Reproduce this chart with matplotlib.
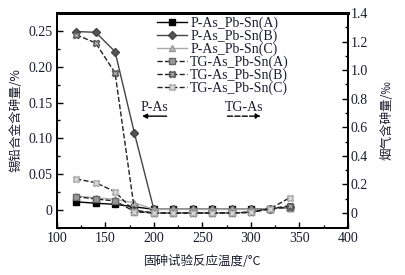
import matplotlib
matplotlib.use("Agg")
import matplotlib.pyplot as plt
from matplotlib.ticker import MultipleLocator, FixedLocator

plt.rcParams['font.family'] = ['Liberation Serif', 'Noto Sans CJK SC', 'DejaVu Sans']
plt.rcParams['mathtext.default'] = 'regular'

temps = [120, 140, 160, 180, 200, 220, 240, 260, 280, 300, 320, 340]
p_a = [0.0115, 0.0095, 0.008, 0.0045, 0.001, 0.001, 0.001, 0.001, 0.001, 0.001, 0.002, 0.003]
p_b = [0.249, 0.248, 0.221, 0.107, 0.001, 0.001, 0.001, 0.001, 0.001, 0.001, 0.002, 0.004]
p_c = [0.0195, 0.017, 0.015, 0.010, 0.001, 0.001, 0.001, 0.001, 0.001, 0.001, 0.002, 0.003]
tg_a = [0.114, 0.098, 0.084, 0.010, 0.0, 0.0, 0.0, 0.0, 0.0, 0.005, 0.03, 0.04]
tg_b = [1.247, 1.19, 0.98, 0.02, 0.0, 0.0, 0.0, 0.0, 0.0, 0.005, 0.03, 0.05]
tg_c = [0.238, 0.212, 0.149, 0.01, 0.0, 0.0, 0.0, 0.0, 0.0, 0.005, 0.03, 0.107]
labels = ['P-As_Pb-Sn(A)', 'P-As_Pb-Sn(B)', 'P-As_Pb-Sn(C)',
          'TG-As_Pb-Sn(A)', 'TG-As_Pb-Sn(B)', 'TG-As_Pb-Sn(C)']

txt = '#1c1c30'
fig = plt.figure(figsize=(4.06, 2.75), dpi=100)
ax = fig.add_axes([0.140, 0.171, 0.717, 0.782])
ax2 = ax.twinx()

h = []
h += ax.plot(temps, p_a, '-', color='black', lw=1.0, marker='s', ms=4, mfc='black', mec='black', label=labels[0])
h += ax.plot(temps, p_b, '-', color='#444444', lw=1.0, marker='D', ms=4, mfc='#555555', mec='#444444', label=labels[1])
h += ax.plot(temps, p_c, '-', color='#aaaaaa', lw=1.0, marker='^', ms=4, mfc='#bbbbbb', mec='#999999', label=labels[2])
h += ax2.plot(temps, tg_a, '--', color='#222222', lw=1.0, marker='s', ms=4.5, mfc='#999999', mec='#666666', label=labels[3])
h += ax2.plot(temps, tg_b, '--', color='#222222', lw=1.0, marker='X', ms=5, mfc='#aaaaaa', mec='#555555', label=labels[4])
h += ax2.plot(temps, tg_c, '--', color='#222222', lw=1.0, marker='X', ms=5, mfc='#dddddd', mec='#aaaaaa', label=labels[5])

ax.set_xlim(100, 400)
ax.set_ylim(-0.025, 0.275)
ax2.set_ylim(-0.105, 1.4)
ax.xaxis.set_major_locator(MultipleLocator(50))
ax.xaxis.set_minor_locator(MultipleLocator(25))
ax.yaxis.set_major_locator(FixedLocator([0, 0.05, 0.10, 0.15, 0.20, 0.25]))
ax.yaxis.set_minor_locator(MultipleLocator(0.025))
ax2.yaxis.set_major_locator(FixedLocator([0, 0.2, 0.4, 0.6, 0.8, 1.0, 1.2, 1.4]))
ax2.yaxis.set_minor_locator(MultipleLocator(0.1))
ax.set_yticklabels(['0', '0.05', '0.10', '0.15', '0.20', '0.25'])
ax2.set_yticklabels(['0', '0.2', '0.4', '0.6', '0.8', '1.0', '1.2', '1.4'])

for a in (ax, ax2):
    a.tick_params(axis='both', which='both', direction='in', labelsize=10, labelcolor=txt, width=1.0)
    a.tick_params(which='major', length=4)
    a.tick_params(which='minor', length=2.5)
    for s in a.spines.values():
        s.set_linewidth(1.3)
    a.spines['top'].set_linewidth(2.0)
ax.tick_params(top=False, right=False, pad=3)
ax2.tick_params(pad=2)

ax.set_xlabel('固砷试验反应温度/°C', fontsize=9, color=txt, family=['Noto Sans CJK SC', 'DejaVu Sans'], labelpad=7)
ax.set_ylabel('锡铅合金含砷量/%', fontsize=9, color=txt, family=['Noto Sans CJK SC', 'DejaVu Sans'], labelpad=4)
ax2.set_ylabel('烟气含砷量/‰', fontsize=9, color=txt, family=['Noto Sans CJK SC', 'DejaVu Sans'], labelpad=9)

leg = ax.legend(handles=h, loc='upper left', bbox_to_anchor=(0.31, 1.03), frameon=False,
                fontsize=10, handlelength=2.2, handletextpad=0.2, labelspacing=-0.03, borderpad=0.2)
for t in leg.get_texts():
    t.set_color(txt)

ax.text(201, 0.134, 'P-As', fontsize=10, color=txt, ha='center', va='bottom')
ax.annotate('', xy=(185, 0.131), xytext=(216, 0.131),
            arrowprops=dict(arrowstyle='-|>', color='black', lw=1.0, mutation_scale=7))
ax.text(293, 0.134, 'TG-As', fontsize=10, color=txt, ha='center', va='bottom')
ax.annotate('', xy=(313, 0.131), xytext=(273, 0.131),
            arrowprops=dict(arrowstyle='-|>', color='black', lw=1.0, ls='--', mutation_scale=7))

fig.savefig('out.png', dpi=100)
